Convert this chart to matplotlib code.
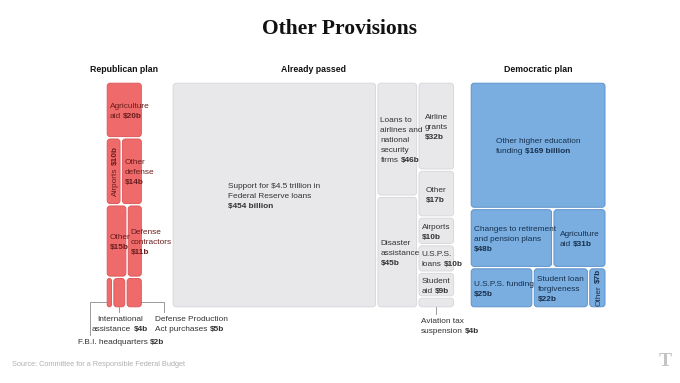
import matplotlib
matplotlib.use("Agg")
import matplotlib.pyplot as plt
from matplotlib.patches import FancyBboxPatch
from matplotlib.font_manager import FontProperties, fontManager

# ---- data (billions of dollars) ----
rep_labels = ["Agriculture\naid ", "Airports ", "Other\ndefense\n", "Other\n",
              "Defense\ncontractors\n", "F.B.I. headquarters ",
              "International\nassistance ", "Defense Production\nAct purchases "]
rep_values = [20, 10, 14, 15, 11, 2, 4, 5]
rep_rows = [[0], [1, 2], [3, 4], [5, 6, 7]]

passed_labels = ["Support for $4.5 trillion in\nFederal Reserve loans\n",
                 "Loans to\nairlines and\nnational\nsecurity\nfirms ",
                 "Disaster\nassistance\n", "Airline\ngrants\n", "Other\n",
                 "Airports\n", "U.S.P.S.\nloans ", "Student\naid ",
                 "Aviation tax\nsuspension "]
passed_values = [454, 46, 45, 32, 17, 10, 10, 9, 4]
passed_cols = [[0], [1, 2], [3, 4, 5, 6, 7, 8]]

dem_labels = ["Other higher education\nfunding ",
              "Changes to retirement\nand pension plans\n", "Agriculture\naid ",
              "U.S.P.S. funding\n", "Student loan\nforgiveness\n", "Other "]
dem_values = [169, 48, 31, 25, 22, 7]
dem_rows = [[0], [1, 2], [3, 4, 5]]

group_titles = ["Republican plan", "Already passed", "Democratic plan"]

# ---- fonts ----
names = {f.name for f in fontManager.ttflist}
SANS = "Liberation Sans Narrow" if "Liberation Sans Narrow" in names else "Liberation Sans"
plt.rcParams["font.family"] = SANS

TOP, HEIGHT, PX_PER_B = 82, 226, 0.451
GAP, PAD, FS = 1.2, 2.5, 5.95
FSPX = FS * 100 / 72
LH = 10.0

fig = plt.figure(figsize=(6.8, 3.83), dpi=100)
ax = fig.add_axes([0, 0, 1, 1])
ax.set_xlim(0, 680)
ax.set_ylim(383, 0)
ax.axis("off")
renderer = fig.canvas.get_renderer()

FP_N = FontProperties(family=SANS, size=FS)
FP_B = FontProperties(family=SANS, size=FS, weight="bold")


def text_w(s, bold=False):
    if not s:
        return 0
    return renderer.get_text_width_height_descent(s, FP_B if bold else FP_N, ismath=False)[0]


SPACE = text_w("a a") - text_w("aa")


def money(v):
    return "$%d billion" % v if v > 100 else "$%db" % v


def label_lines(label, value):
    parts = label.split("\n")
    lines = [(p, "") for p in parts[:-1]] + [(parts[-1], money(value))]
    out = []
    for a, b in lines:
        wa = text_w(a.rstrip()) + (SPACE if a.endswith(" ") else 0)
        out.append((a.rstrip(), b, wa, wa + text_w(b, True)))
    return out


def draw_lines(lines, x_left, y_center_first, color, align="left", cx=None):
    for k, (a, b, wa, wt) in enumerate(lines):
        yb = y_center_first + k * LH + 0.36 * FSPX
        xl = x_left if align == "left" else cx - wt / 2
        if a:
            ax.text(xl, yb, a, ha="left", va="baseline", fontsize=FS, color=color)
        if b:
            ax.text(xl + wa, yb, b, ha="left", va="baseline", fontsize=FS,
                    color=color, fontweight="bold")


def slice_layout(values, groups, x0, stack):
    total = sum(values)
    w = total * PX_PER_B
    boxes = [None] * len(values)
    pos = 0
    for g in groups:
        gs = sum(values[i] for i in g)
        inner = 0
        if stack == "rows":
            gh = HEIGHT * gs / total
            for i in g:
                bw = w * values[i] / gs
                boxes[i] = (x0 + inner, TOP + pos, bw, gh)
                inner += bw
            pos += gh
        else:
            gw = w * gs / total
            for i in g:
                bh = HEIGHT * values[i] / gs
                boxes[i] = (x0 + pos, TOP + inner, gw, bh)
                inner += bh
            pos += gw
    return boxes, w


def draw_group(labels, values, boxes, fc, ec, tc, callouts):
    for i, (x, y, w, h) in enumerate(boxes):
        bw, bh = w - 2 * GAP, h - 2 * GAP
        r = min(3, bw / 2, bh / 2)
        ax.add_patch(FancyBboxPatch((x + GAP, y + GAP), bw, bh,
                                    boxstyle="round,pad=0,rounding_size=%.2f" % r,
                                    fc=fc, ec=ec, lw=0.7))
        lines = label_lines(labels[i], values[i])
        if i in callouts:
            kind, tx, ty, align = callouts[i]
            bot = y + h - GAP
            lc = dict(color="#8a8a8a", lw=0.6)
            if kind == "left":
                ax.plot([x + GAP, tx + 12, tx + 12], [bot - 5, bot - 5, ty - 6], **lc)
            elif kind == "right":
                ax.plot([x + w - GAP, tx + 9, tx + 9], [bot - 5, bot - 5, ty - 6], **lc)
            else:
                ax.plot([x + w / 2, x + w / 2], [bot, ty - 6], **lc)
            draw_lines(lines, tx, ty, "#333333", align, cx=tx)
            continue
        block_w = max(l[3] for l in lines)
        n = len(lines)
        if block_w > bw - 2 * PAD and n == 1 and bh > bw:
            a, b, wa, wt = lines[0]
            xb = x + w / 2 + 0.36 * FSPX
            y0 = y + h / 2 + wt / 2
            ax.text(xb, y0, a, rotation=90, rotation_mode="anchor", ha="left",
                    va="baseline", fontsize=FS, color=tc)
            ax.text(xb, y0 - wa, b, rotation=90, rotation_mode="anchor", ha="left",
                    va="baseline", fontsize=FS, color=tc, fontweight="bold")
            continue
        if block_w > bw - 2 * PAD:
            x_left = x + GAP + PAD
        else:
            x_left = x + w / 2 - block_w / 2
        draw_lines(lines, x_left, y + h / 2 - (n - 1) * LH / 2, tc)


rep_boxes, rep_w = slice_layout(rep_values, rep_rows, 106, "rows")
passed_boxes, passed_w = slice_layout(passed_values, passed_cols, 172, "cols")
dem_boxes, dem_w = slice_layout(dem_values, dem_rows, 470, "rows")

draw_group(rep_labels, rep_values, rep_boxes, "#ef6b6b", "#de5a5a", "#6a1c1c",
           {5: ("left", 78, 341, "left"), 6: ("down", 120, 318, "center"),
            7: ("right", 155, 318, "left")})
draw_group(passed_labels, passed_values, passed_boxes, "#e8e7ea", "#d9d8dc", "#333333",
           {8: ("down", 421, 320, "left")})
draw_group(dem_labels, dem_values, dem_boxes, "#7aaee0", "#5f93cc", "#17304d", {})

for title, x0, w in zip(group_titles, [106, 172, 470], [rep_w, passed_w, dem_w]):
    ax.text(x0 + w / 2, 70, title, ha="center", va="center", fontsize=6.3,
            fontweight="bold", color="#111")

ax.text(340, 29, "Other Provisions", ha="center", va="center", fontsize=15.5,
        fontweight="bold", family="Liberation Serif", color="#111")
ax.text(12, 364, "Source: Committee for a Responsible Federal Budget", ha="left",
        va="center", fontsize=5.3, color="#b0b0b0")
ax.text(665, 362, "T", ha="center", va="center", fontsize=14, family="Liberation Serif",
        fontweight="bold", color="#c4c4c4")

fig.savefig("out.png", dpi=100)
